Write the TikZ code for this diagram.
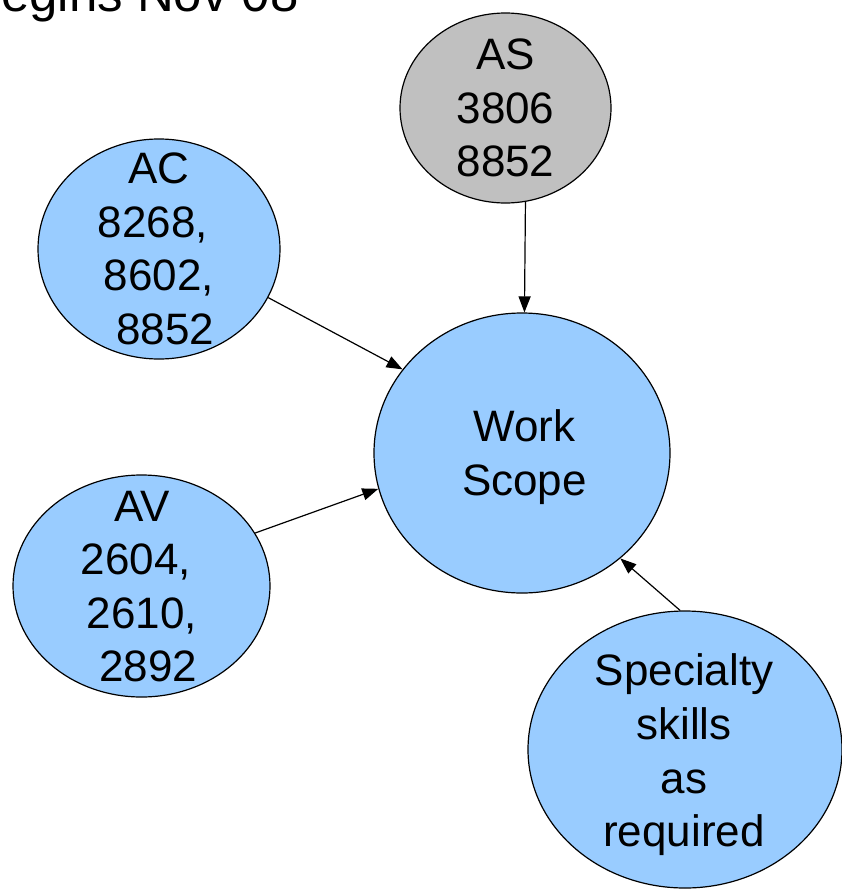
\documentclass[tikz,border=0pt]{standalone}
\usepackage{fontspec}
\setmainfont{Liberation Sans}
\usetikzlibrary{shapes.geometric,arrows.meta}
\definecolor{skyfill}{HTML}{99CCFF}
\definecolor{greyfill}{HTML}{C0C0C0}
% an explicit word space that survives at line starts and ends
\newcommand\wordgap{\mbox{\ }}

\begin{document}
\begin{tikzpicture}[x=1pt,y=-1pt,
  bubble/.style={ellipse, draw=black, line width=1.2pt, inner sep=0pt},
  bluebubble/.style={bubble, fill=skyfill},
  greybubble/.style={bubble, fill=greyfill},
  caption/.style={align=center, inner sep=0pt, font=\fontsize{44}{53.6}\selectfont},
  link/.style={-{Triangle[length=16pt,width=12pt]}, line width=1.2pt}]

  % page
  \fill[white] (0,0) rectangle (842,889);
  \useasboundingbox (0,0) rectangle (842,889);

  % heading, partly cut off by the page edge
  \node[anchor=base east, inner sep=0pt, font=\fontsize{51}{60}\selectfont] (heading) at (299,11) {egins Nov 08};

  % bubbles
  \node[greybubble, minimum width=211pt, minimum height=190pt] (as) at (505.5,108) {};
  \node[bluebubble, minimum width=242pt, minimum height=220pt] (ac) at (159,249) {};
  \node[bluebubble, minimum width=257pt, minimum height=222pt] (av) at (141.5,586) {};
  \node[bluebubble, minimum width=296pt, minimum height=280pt] (ws) at (522,453) {};
  \node[bluebubble, minimum width=314pt, minimum height=277pt] (sp) at (685,749.5) {};

  % bubble texts
  \node[caption] (astext) at (505.5,108) {AS\\3806\\8852};
  \node[caption] (actext) at (159,249) {AC\\8268,\wordgap\\8602,\\\wordgap 8852};
  \node[caption] (avtext) at (142,586.5) {AV\\2604,\wordgap\\2610,\\\wordgap 2892};
  \node[caption] (wstext) at (524.5,457) {Work\\Scope};
  \node[caption] (sptext) at (684,755) {Specialty\\skills\\as\\required};

  % connectors
  \draw[link] (as.-78.8) -- (ws.89.2);
  \draw[link] (ac.-24.6) -- (ws.145.4);
  \draw[link] (av.25) -- (ws.-166.8);
  \draw[link] (sp.92.5) -- (ws.-47.2);
\end{tikzpicture}
\end{document}
